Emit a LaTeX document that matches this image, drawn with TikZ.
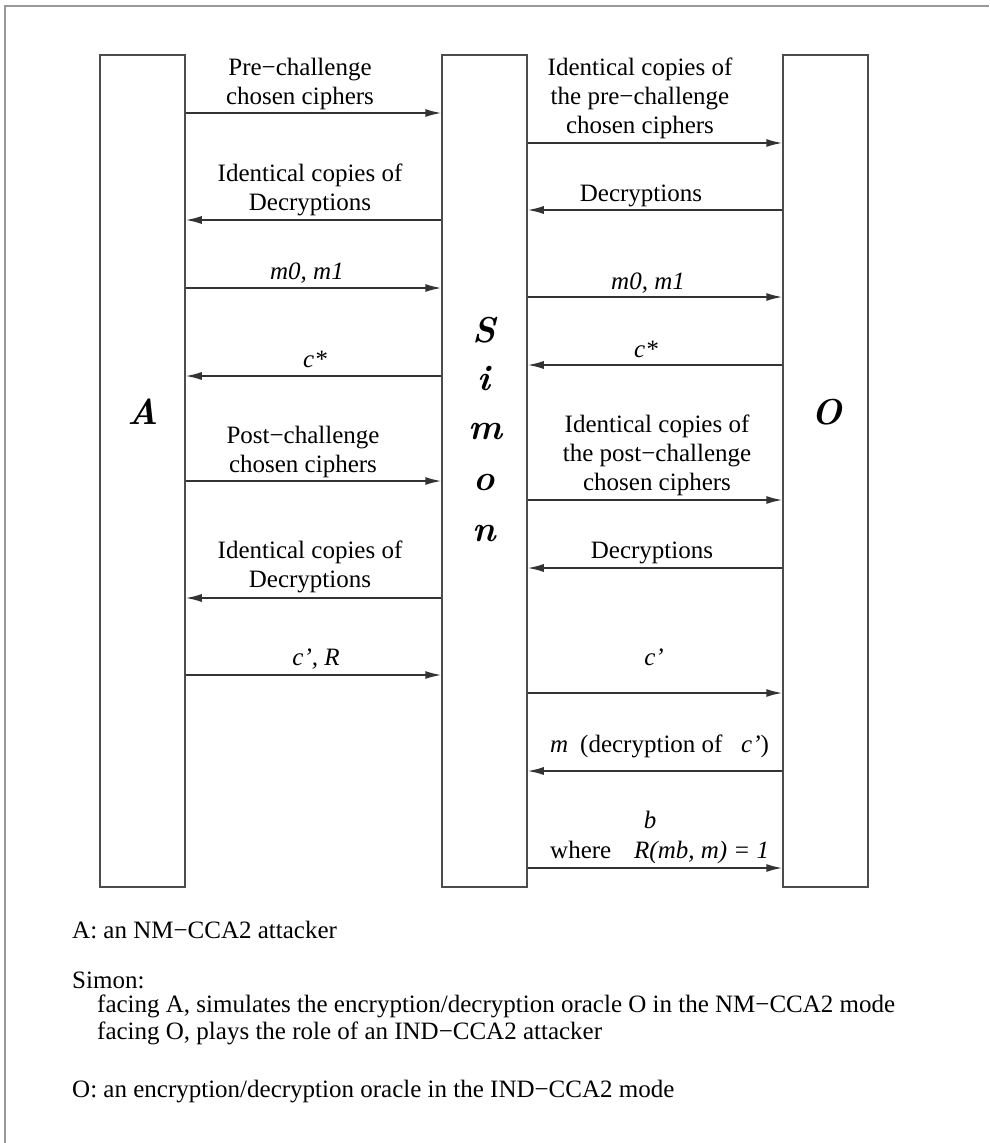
\documentclass[tikz,border=0pt]{standalone}
\usepackage{fontspec}
\setmainfont{Liberation Serif}
\newfontfamily\cmfont{Latin Modern Roman}
\usetikzlibrary{arrows.meta}
\begin{document}
\begin{tikzpicture}[x=1pt,y=1pt,
  partybox/.style={draw=black!70, line width=1.5pt, minimum width=85pt, minimum height=832pt, inner sep=0pt},
  msg/.style={draw=black!80, line width=1.5pt, -{Latex[length=16pt,width=8pt]}},
  lbl/.style={font=\fontsize{25}{29}\selectfont, align=center, inner sep=0pt, anchor=base},
  big/.style={font=\cmfont\fontsize{36}{36}\selectfont\bfseries\itshape, inner sep=0pt, anchor=base},
  note/.style={font=\fontsize{25}{27}\selectfont, anchor=base west, inner sep=0pt}]
\useasboundingbox (0,0) rectangle (989,-1143);
\fill[white] (0,0) rectangle (989,-1143);
\draw[black!40, line width=2pt] (5,-1143) -- (5,-6) -- (989,-6);
% parties
\node[partybox] (A) at (142.5,-471) {};
\node[partybox] (S) at (484.5,-471) {};
\node[partybox] (O) at (825.5,-471) {};
\node[big] (Alab) at (143,-424) {A};
\node[big] (Olab) at (827,-424) {O};
\node[big] (s1) at (484,-342) {S};
\node[big] (s2) at (484,-390) {i};
\node[big] (s3) at (485,-439) {m};
\node[big] (s4) at (484,-490) {o};
\node[big] (s5) at (484,-541) {n};
% left messages
\draw[msg] (A.east |- 0,-113) -- (S.west |- 0,-113);
\node[lbl] (l1) at (300,-104) {Pre−challenge\\chosen ciphers};
\draw[msg] (S.west |- 0,-220) -- (A.east |- 0,-220);
\node[lbl] (l2) at (310,-210) {Identical copies of\\Decryptions};
\draw[msg] (A.east |- 0,-288) -- (S.west |- 0,-288);
\node[lbl] (l3) at (307,-279) {\textit{m0, m1}};
\draw[msg] (S.west |- 0,-376) -- (A.east |- 0,-376);
\node[lbl] (l4) at (315,-367) {\textit{c*}};
\draw[msg] (A.east |- 0,-481) -- (S.west |- 0,-481);
\node[lbl] (l5) at (303,-472) {Post−challenge\\chosen ciphers};
\draw[msg] (S.west |- 0,-598) -- (A.east |- 0,-598);
\node[lbl] (l6) at (310,-587) {Identical copies of\\Decryptions};
\draw[msg] (A.east |- 0,-675) -- (S.west |- 0,-675);
\node[lbl] (l7) at (316,-665) {\textit{c’, R}};
% right messages
\draw[msg] (S.east |- 0,-143) -- (O.west |- 0,-143);
\node[lbl] (r1) at (640,-133) {Identical copies of\\the pre−challenge\\chosen ciphers};
\draw[msg] (O.west |- 0,-210) -- (S.east |- 0,-210);
\node[lbl] (r2) at (641,-201) {Decryptions};
\draw[msg] (S.east |- 0,-297) -- (O.west |- 0,-297);
\node[lbl] (r3) at (648,-289) {\textit{m0, m1}};
\draw[msg] (O.west |- 0,-365) -- (S.east |- 0,-365);
\node[lbl] (r4) at (646,-357) {\textit{c*}};
\draw[msg] (S.east |- 0,-500) -- (O.west |- 0,-500);
\node[lbl] (r5) at (657,-490) {Identical copies of\\the post−challenge\\chosen ciphers};
\draw[msg] (O.west |- 0,-568) -- (S.east |- 0,-568);
\node[lbl] (r6) at (652,-558) {Decryptions};
\draw[msg] (S.east |- 0,-693) -- (O.west |- 0,-693);
\node[lbl] (r7) at (654,-665) {\textit{c’}};
\draw[msg] (O.west |- 0,-771) -- (S.east |- 0,-771);
\node[lbl, anchor=base west] (r8) at (550,-752) {\makebox[30pt][l]{\textit{m}}\makebox[161pt][l]{(decryption of}\textit{c’})};
\draw[msg] (S.east |- 0,-868) -- (O.west |- 0,-868);
\node[lbl] (r9a) at (650,-828) {\textit{b}};
\node[lbl, anchor=base west] (r9b) at (550,-858) {\makebox[84pt][l]{where}\textit{R(mb, m) = 1}};
% notes
\node[note] (n1) at (72,-938) {A: an NM−CCA2 attacker};
\node[note] (n2) at (72,-988) {Simon:};
\node[note] (n3) at (97,-1012) {facing A, simulates the encryption/decryption oracle O in the NM−CCA2 mode};
\node[note] (n4) at (97,-1039) {facing O, plays the role of an IND−CCA2 attacker};
\node[note] (n5) at (72,-1097) {O: an encryption/decryption oracle in the IND−CCA2 mode};
\end{tikzpicture}
\end{document}
